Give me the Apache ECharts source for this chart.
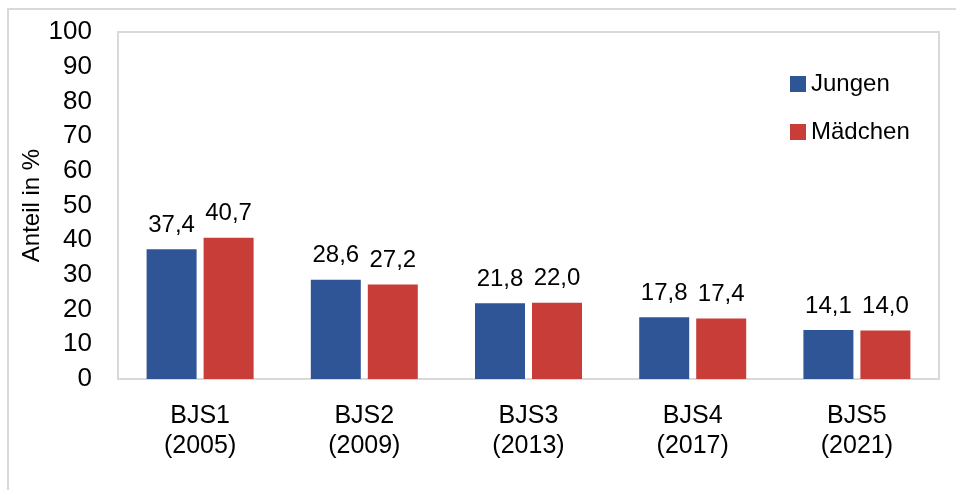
<!DOCTYPE html>
<html>
<head>
<meta charset="utf-8">
<script src="https://cdn.jsdelivr.net/npm/echarts@6/dist/echarts.min.js"></script>
<style>
  html, body { margin: 0; padding: 0; background: #fff; }
  #chart { width: 956px; height: 490px; }
</style>
</head>
<body>
<div id="chart"></div>
<script>
const categories = ["BJS1\n(2005)", "BJS2\n(2009)", "BJS3\n(2013)", "BJS4\n(2017)", "BJS5\n(2021)"];
const jungen = [37.4, 28.6, 21.8, 17.8, 14.1];
const maedchen = [40.7, 27.2, 22.0, 17.4, 14.0];
const seriesNames = ["Jungen", "Mädchen"];

const font = "'Liberation Sans', Arial, sans-serif";
const fmt = (v) => v.toFixed(1).replace(".", ",");

const chart = echarts.init(document.getElementById("chart"));

const barLabel = {
  show: true,
  position: "top",
  distance: 12,
  color: "#000",
  fontSize: 24,
  fontFamily: font,
  formatter: (p) => fmt(p.value),
};

chart.setOption({
  animation: false,
  textStyle: { fontFamily: font },
  graphic: [
    {
      type: "rect",
      shape: { x: 8, y: 9, width: 1000, height: 600 },
      style: { fill: "none", stroke: "#d9d9d9", lineWidth: 2 },
      silent: true,
    },
  ],
  legend: {
    orient: "vertical",
    left: 785,
    top: 67,
    itemWidth: 16,
    itemHeight: 16,
    itemGap: 24,
    icon: "rect",
    textStyle: { color: "#000", fontSize: 24, fontFamily: font },
    data: seriesNames,
  },
  grid: {
    left: 118,
    right: 17,
    top: 32,
    bottom: 111,
    show: true,
    borderColor: "#d9d9d9",
    borderWidth: 2,
  },
  xAxis: {
    type: "category",
    data: categories,
    axisLine: { show: false },
    axisTick: { show: false },
    axisLabel: {
      color: "#000",
      fontSize: 25,
      fontFamily: font,
      lineHeight: 30,
      margin: 22,
      interval: 0,
    },
  },
  yAxis: {
    type: "value",
    min: 0,
    max: 100,
    interval: 10,
    name: "Anteil in %",
    nameLocation: "middle",
    nameRotate: 90,
    nameGap: 74,
    nameMoveOverlap: false,
    nameTextStyle: { color: "#000", fontSize: 24, fontFamily: font },
    axisLine: { show: false },
    axisTick: { show: false },
    splitLine: { show: false },
    axisLabel: {
      color: "#000",
      fontSize: 26,
      fontFamily: font,
      margin: 26,
    },
  },
  series: [
    {
      name: seriesNames[0],
      type: "bar",
      data: jungen,
      barWidth: 50,
      barGap: "14%",
      itemStyle: { color: "#2F5597" },
      label: barLabel,
    },
    {
      name: seriesNames[1],
      type: "bar",
      data: maedchen,
      barWidth: 50,
      itemStyle: { color: "#C83D37" },
      label: barLabel,
    },
  ],
});
</script>
</body>
</html>
